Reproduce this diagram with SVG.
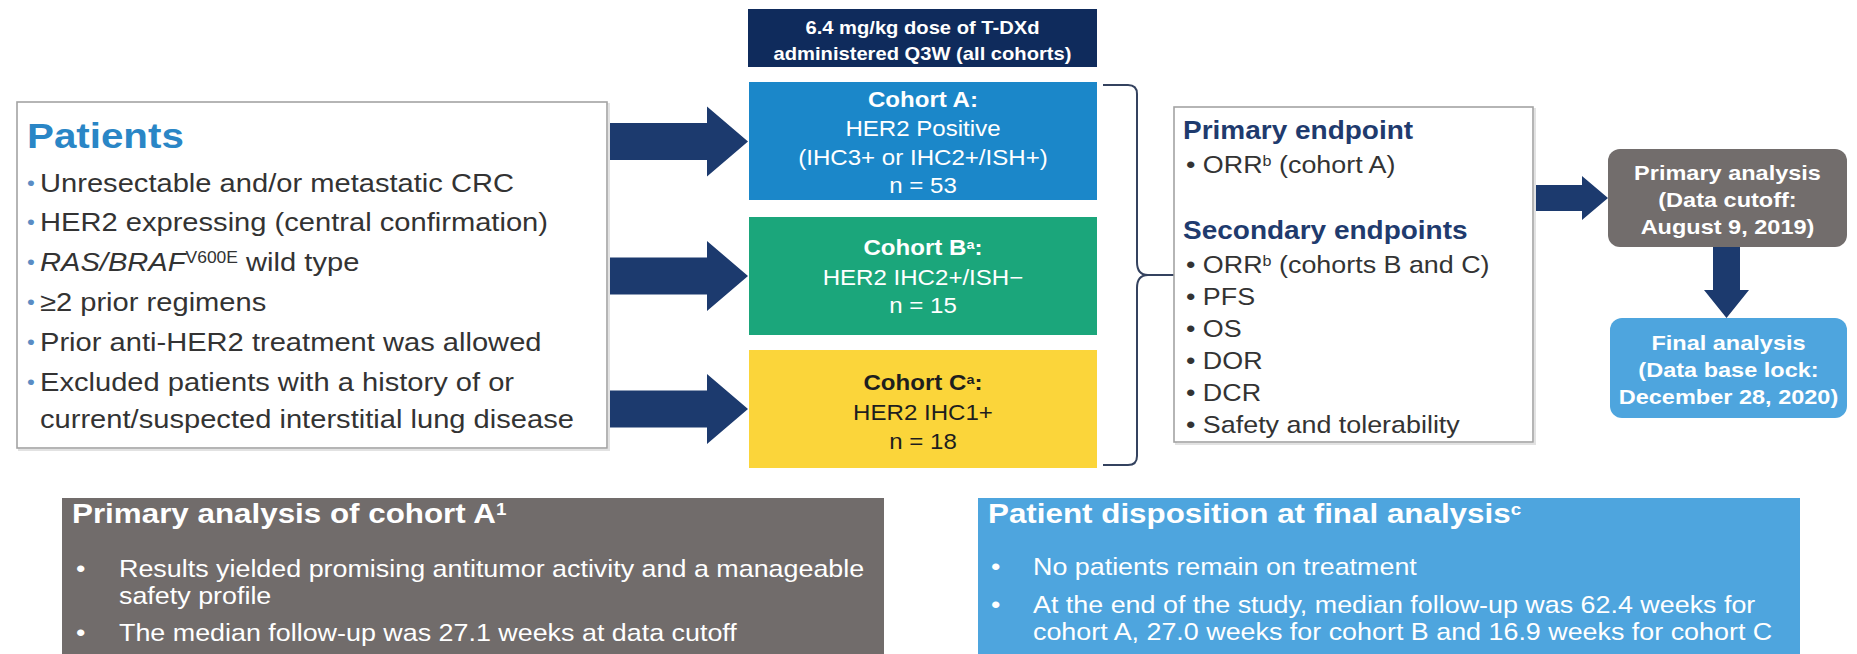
<svg xmlns="http://www.w3.org/2000/svg" width="1857" height="654" viewBox="0 0 1857 654">
  <style>
    text { font-family: "Liberation Sans", Arial, Helvetica, sans-serif; transform-box: fill-box; transform-origin: 0% 50%; transform: scaleX(1.12); }
    .mid { text-anchor: middle; transform-origin: 50% 50%; }
    .b { font-weight: bold; }
    .w { fill: #ffffff; }
    .list { font-size: 26px; fill: #333333; }
    .dot { font-size: 20px; fill: #5a8cc4; }
    .ep-h { font-size: 25px; font-weight: bold; fill: #1f3b6e; }
    .ep { font-size: 24px; fill: #333333; }
    .co { font-size: 21.5px; }
    .an { font-size: 21px; font-weight: bold; fill: #ffffff; }
    .sum-h { font-size: 28px; font-weight: bold; fill: #ffffff; }
    .sum { font-size: 24px; fill: #ffffff; }
    .frame { fill: #ffffff; stroke: #a3a3a3; stroke-width: 1.6; }
    .shade { fill: none; stroke: #e2e2e2; stroke-width: 2; }
    .arrow { fill: #1c3a6e; }
  </style>
  <defs>
    <path id="arrow-lg" d="M0,-18.5 H99 V-35 L140,0 L99,35 V18.5 H0 Z"/>
  </defs>

  <rect width="1857" height="654" fill="#ffffff"/>

  <!-- connectors: block arrows and the brace -->
  <g id="connectors">
    <use href="#arrow-lg" class="arrow" transform="translate(608,141.5)"/>
    <use href="#arrow-lg" class="arrow" transform="translate(608,276)"/>
    <use href="#arrow-lg" class="arrow" transform="translate(608,409)"/>
    <path class="arrow" d="M1535,185 H1582 V176 L1608,198 L1582,220 V211 H1535 Z"/>
    <path class="arrow" d="M1713,247 H1740 V290 H1749 L1726.5,318 L1704,290 H1713 Z"/>
    <path d="M1103,85 H1128 Q1137,85 1137,94 V262 Q1137,275 1148,275 Q1137,275 1137,288 V456 Q1137,465 1128,465 H1103 M1148,275 H1174" fill="none" stroke="#34425f" stroke-width="2"/>
  </g>

  <!-- eligibility -->
  <g id="patients">
    <rect class="shade" x="19" y="104" width="590" height="346"/>
    <rect class="frame" x="17" y="102" width="590" height="346"/>
    <text x="27" y="148" font-size="36" font-weight="bold" fill="#2a86c6">Patients</text>
    <text class="dot" x="27" y="190">•</text>
    <text class="list" x="40" y="192">Unresectable and/or metastatic CRC</text>
    <text class="dot" x="27" y="229">•</text>
    <text class="list" x="40" y="231">HER2 expressing (central confirmation)</text>
    <text class="dot" x="27" y="269">•</text>
    <text class="list" x="40" y="271"><tspan font-style="italic">RAS/BRAF</tspan><tspan font-size="60%" baseline-shift="45%">V600E</tspan> wild type</text>
    <text class="dot" x="27" y="309">•</text>
    <text class="list" x="40" y="311">≥2 prior regimens</text>
    <text class="dot" x="27" y="349">•</text>
    <text class="list" x="40" y="351">Prior anti-HER2 treatment was allowed</text>
    <text class="dot" x="27" y="389">•</text>
    <text class="list" x="40" y="391">Excluded patients with a history of or</text>
    <text class="list" x="40" y="428">current/suspected interstitial lung disease</text>
  </g>

  <!-- dosing banner -->
  <g id="dose">
    <rect x="748" y="9" width="349" height="58" fill="#0f2b5c"/>
    <text class="mid b w" x="922.5" y="34" font-size="18">6.4 mg/kg dose of T-DXd</text>
    <text class="mid b w" x="922.5" y="60" font-size="18">administered Q3W (all cohorts)</text>
  </g>

  <!-- cohorts -->
  <g id="cohort-a">
    <rect x="749" y="82" width="348" height="118" fill="#1b87c9"/>
    <text class="mid co b w" x="923" y="107">Cohort A:</text>
    <text class="mid co w" x="923" y="136">HER2 Positive</text>
    <text class="mid co w" x="923" y="165">(IHC3+ or IHC2+/ISH+)</text>
    <text class="mid co w" x="923" y="193">n = 53</text>
  </g>
  <g id="cohort-b">
    <rect x="749" y="217" width="348" height="118" fill="#1ba67b"/>
    <text class="mid co b w" x="923" y="255">Cohort B<tspan font-size="60%" baseline-shift="45%">a</tspan>:</text>
    <text class="mid co w" x="923" y="285">HER2 IHC2+/ISH−</text>
    <text class="mid co w" x="923" y="313">n = 15</text>
  </g>
  <g id="cohort-c">
    <rect x="749" y="350" width="348" height="118" fill="#fbd53a"/>
    <text class="mid co b" x="923" y="390" fill="#1e1e1e">Cohort C<tspan font-size="60%" baseline-shift="45%">a</tspan>:</text>
    <text class="mid co" x="923" y="420" fill="#1e1e1e">HER2 IHC1+</text>
    <text class="mid co" x="923" y="449" fill="#1e1e1e">n = 18</text>
  </g>

  <!-- endpoints -->
  <g id="endpoints">
    <rect class="shade" x="1176" y="109" width="359" height="335"/>
    <rect class="frame" x="1174" y="107" width="359" height="335"/>
    <text class="ep-h" x="1183" y="139">Primary endpoint</text>
    <text class="ep" x="1186" y="173">• ORR<tspan font-size="60%" baseline-shift="45%">b</tspan> (cohort A)</text>
    <text class="ep-h" x="1183" y="239">Secondary endpoints</text>
    <text class="ep" x="1186" y="273">• ORR<tspan font-size="60%" baseline-shift="45%">b</tspan> (cohorts B and C)</text>
    <text class="ep" x="1186" y="305">• PFS</text>
    <text class="ep" x="1186" y="337">• OS</text>
    <text class="ep" x="1186" y="369">• DOR</text>
    <text class="ep" x="1186" y="401">• DCR</text>
    <text class="ep" x="1186" y="433">• Safety and tolerability</text>
  </g>

  <!-- analysis milestones -->
  <g id="primary-analysis">
    <rect x="1608" y="149" width="239" height="98" rx="12" fill="#726d6c"/>
    <text class="mid an" x="1727.5" y="180">Primary analysis</text>
    <text class="mid an" x="1727.5" y="207">(Data cutoff:</text>
    <text class="mid an" x="1727.5" y="234">August 9, 2019)</text>
  </g>
  <g id="final-analysis">
    <rect x="1610" y="318" width="237" height="100" rx="12" fill="#4ea5de"/>
    <text class="mid an" x="1728.5" y="350">Final analysis</text>
    <text class="mid an" x="1728.5" y="377">(Data base lock:</text>
    <text class="mid an" x="1728.5" y="404">December 28, 2020)</text>
  </g>

  <!-- summary panels -->
  <g id="primary-summary">
    <rect x="62" y="498" width="822" height="156" fill="#716c6b"/>
    <text class="sum-h" x="72" y="523">Primary analysis of cohort A<tspan font-size="60%" baseline-shift="45%">1</tspan></text>
    <text class="sum" x="76" y="577">•</text>
    <text class="sum" x="119" y="577">Results yielded promising antitumor activity and a manageable</text>
    <text class="sum" x="119" y="604">safety profile</text>
    <text class="sum" x="76" y="641">•</text>
    <text class="sum" x="119" y="641">The median follow-up was 27.1 weeks at data cutoff</text>
  </g>
  <g id="disposition">
    <rect x="978" y="498" width="822" height="156" fill="#4ea5de"/>
    <text class="sum-h" x="988" y="523">Patient disposition at final analysis<tspan font-size="60%" baseline-shift="45%">c</tspan></text>
    <text class="sum" x="991" y="575">•</text>
    <text class="sum" x="1033" y="575">No patients remain on treatment</text>
    <text class="sum" x="991" y="613">•</text>
    <text class="sum" x="1033" y="613">At the end of the study, median follow-up was 62.4 weeks for</text>
    <text class="sum" x="1033" y="640">cohort A, 27.0 weeks for cohort B and 16.9 weeks for cohort C</text>
  </g>
</svg>
